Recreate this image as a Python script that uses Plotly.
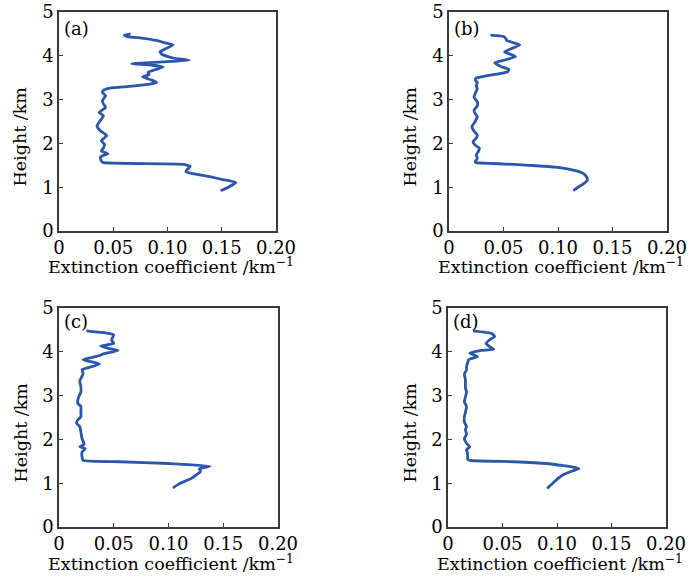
import plotly.graph_objects as go

# ---------------- data (height km, extinction km^-1) ----------------
h_a = [0.92, 1.00, 1.11, 1.18, 1.24, 1.30, 1.35, 1.40, 1.47, 1.52, 1.56, 1.60,
       1.68, 1.72, 1.76, 1.83, 1.90, 1.98, 2.06, 2.18, 2.29, 2.40, 2.52, 2.63,
       2.71, 2.82, 2.90, 2.98, 3.09, 3.16, 3.21, 3.26, 3.30, 3.36, 3.39, 3.45,
       3.52, 3.57, 3.62, 3.67, 3.74, 3.79, 3.82, 3.86, 3.90, 3.95, 4.03, 4.09,
       4.17, 4.25, 4.30, 4.35, 4.40, 4.44, 4.47, 4.50]
ext_a = [0.149, 0.156, 0.163, 0.150, 0.139, 0.126, 0.117, 0.118, 0.121, 0.115, 0.041, 0.039,
         0.038, 0.040, 0.045, 0.039, 0.041, 0.042, 0.039, 0.044, 0.038, 0.035, 0.038, 0.041,
         0.037, 0.043, 0.041, 0.040, 0.043, 0.040, 0.041, 0.047, 0.065, 0.085, 0.090, 0.085,
         0.077, 0.083, 0.082, 0.087, 0.096, 0.085, 0.067, 0.095, 0.120, 0.105, 0.095, 0.093,
         0.099, 0.105, 0.097, 0.090, 0.078, 0.063, 0.060, 0.066]

h_b = [0.92, 1.01, 1.07, 1.16, 1.24, 1.30, 1.35, 1.39, 1.43, 1.46, 1.49, 1.52, 1.56,
       1.58, 1.66, 1.74, 1.82, 1.89, 1.96, 2.04, 2.12, 2.19, 2.28, 2.38, 2.50, 2.61,
       2.68, 2.76, 2.86, 2.95, 3.05, 3.14, 3.25, 3.32, 3.39, 3.45, 3.49, 3.52, 3.56,
       3.60, 3.64, 3.69, 3.75, 3.84, 3.91, 3.98, 4.03, 4.09, 4.17, 4.25, 4.30, 4.35,
       4.40, 4.44, 4.47]
ext_b = [0.114, 0.119, 0.123, 0.127, 0.126, 0.124, 0.120, 0.114, 0.106, 0.097, 0.080, 0.060, 0.025,
         0.024, 0.026, 0.025, 0.027, 0.028, 0.024, 0.022, 0.025, 0.026, 0.023, 0.021, 0.024, 0.026,
         0.024, 0.023, 0.026, 0.026, 0.023, 0.024, 0.026, 0.025, 0.026, 0.024, 0.025, 0.030, 0.038,
         0.048, 0.054, 0.055, 0.048, 0.042, 0.052, 0.061, 0.057, 0.051, 0.058, 0.065, 0.059, 0.053,
         0.052, 0.050, 0.038]

h_c = [0.89, 0.99, 1.11, 1.20, 1.26, 1.30, 1.33, 1.39, 1.45, 1.49, 1.52, 1.61,
       1.71, 1.79, 1.83, 1.89, 2.02, 2.17, 2.29, 2.37, 2.44, 2.52, 2.62, 2.75,
       2.83, 2.97, 3.08, 3.20, 3.34, 3.44, 3.51, 3.59, 3.64, 3.72, 3.82, 3.87,
       3.92, 3.95, 4.03, 4.08, 4.13, 4.19, 4.27, 4.39, 4.44, 4.48]
ext_c = [0.104, 0.110, 0.121, 0.126, 0.129, 0.129, 0.128, 0.138, 0.100, 0.056, 0.022, 0.021,
         0.021, 0.024, 0.019, 0.023, 0.021, 0.020, 0.019, 0.016, 0.017, 0.020, 0.020, 0.020,
         0.017, 0.018, 0.020, 0.020, 0.019, 0.021, 0.022, 0.021, 0.027, 0.037, 0.022, 0.030,
         0.038, 0.040, 0.054, 0.045, 0.038, 0.050, 0.048, 0.050, 0.040, 0.025]

h_d = [0.88, 1.02, 1.11, 1.20, 1.28, 1.33, 1.36, 1.40, 1.45, 1.49, 1.52, 1.55,
       1.61, 1.68, 1.76, 1.83, 1.91, 2.02, 2.12, 2.22, 2.29, 2.40, 2.52, 2.62,
       2.75, 2.86, 2.97, 3.08, 3.18, 3.36, 3.49, 3.59, 3.66, 3.75, 3.82, 3.89,
       3.97, 4.03, 4.06, 4.12, 4.19, 4.27, 4.35, 4.42, 4.48]
ext_d = [0.091, 0.097, 0.101, 0.106, 0.114, 0.120, 0.116, 0.106, 0.090, 0.060, 0.020, 0.018,
         0.018, 0.018, 0.017, 0.020, 0.017, 0.015, 0.017, 0.016, 0.017, 0.015, 0.015, 0.016,
         0.017, 0.015, 0.016, 0.017, 0.016, 0.016, 0.015, 0.017, 0.017, 0.018, 0.019, 0.027,
         0.020, 0.031, 0.042, 0.038, 0.035, 0.038, 0.043, 0.040, 0.023]

panel_labels = ["(a)", "(b)", "(c)", "(d)"]
x_tickvals = [0, 0.05, 0.10, 0.15, 0.20]
x_ticktext = ["0", "0.05", "0.10", "0.15", "0.20"]
y_tickvals = [0, 1, 2, 3, 4, 5]
x_title = "Extinction coefficient /km<sup>−1</sup>"
y_title = "Height /km"

# ---------------- layout geometry (pixels in the 693x579 page) ----------------
W, H = 693, 579
boxes = [  # left, right, top, bottom (page pixels)
    (59, 276, 12, 231),
    (449, 667, 12, 231),
    (59, 278, 308, 527),
    (448, 666, 308, 527),
]
label_dy = [16, 16, 13, 13]
title_dy = [35, 35, 36, 36]
FONT = "DejaVu Serif"
LINE = "#2B57AA"
AX = "#3a3a3a"


def px(x):
    return x / W


def py(y):
    return 1 - y / H


series = [(ext_a, h_a), (ext_b, h_b), (ext_c, h_c), (ext_d, h_d)]

fig = go.Figure()
annotations = []
for i, ((xs, ys), (l, r, t, b), lab) in enumerate(zip(series, boxes, panel_labels)):
    n = "" if i == 0 else str(i + 1)
    fig.add_trace(go.Scatter(x=xs, y=ys, mode="lines",
                             line=dict(color=LINE, width=2.8, shape="spline", smoothing=0.4),
                             xaxis="x" + n, yaxis="y" + n, showlegend=False,
                             hoverinfo="skip"))
    common = dict(showgrid=False, zeroline=False, showline=True, linecolor=AX,
                  linewidth=1.5, mirror=True, ticks="inside", ticklen=4,
                  tickcolor=AX, tickwidth=1, automargin=False,
                  tickfont=dict(family=FONT, size=18, color="black"))
    fig.update_layout(**{
        "xaxis" + n: dict(domain=[px(l), px(r)], range=[0, 0.2],
                          tickvals=x_tickvals, ticktext=x_ticktext,
                          anchor="y" + n, **common),
        "yaxis" + n: dict(domain=[py(b), py(t)], range=[0, 5],
                          tickvals=y_tickvals, anchor="x" + n, **common),
    })
    # panel label
    annotations.append(dict(text=lab, x=px(l + 3), y=py(t + label_dy[i]),
                            xref="paper", yref="paper", xanchor="left", yanchor="middle",
                            showarrow=False, font=dict(family=FONT, size=18, color="black")))
    # x title
    annotations.append(dict(text=x_title, x=px(l + 112), y=py(b + title_dy[i]),
                            xref="paper", yref="paper", xanchor="center", yanchor="middle",
                            showarrow=False, font=dict(family=FONT, size=17.5, color="black")))
    # y title
    annotations.append(dict(text=y_title, x=px(l - 39), y=py((t + b) / 2 + 15),
                            xref="paper", yref="paper", xanchor="center", yanchor="middle",
                            textangle=-90, showarrow=False,
                            font=dict(family=FONT, size=17.5, color="black")))

fig.update_layout(width=W, height=H, margin=dict(l=0, r=0, t=0, b=0),
                  paper_bgcolor="white", plot_bgcolor="white",
                  annotations=annotations)

fig.write_html("out.html",
               config={"displayModeBar": False},
               post_script="document.body.style.margin='0';"
                           "document.body.style.overflow='hidden';")
